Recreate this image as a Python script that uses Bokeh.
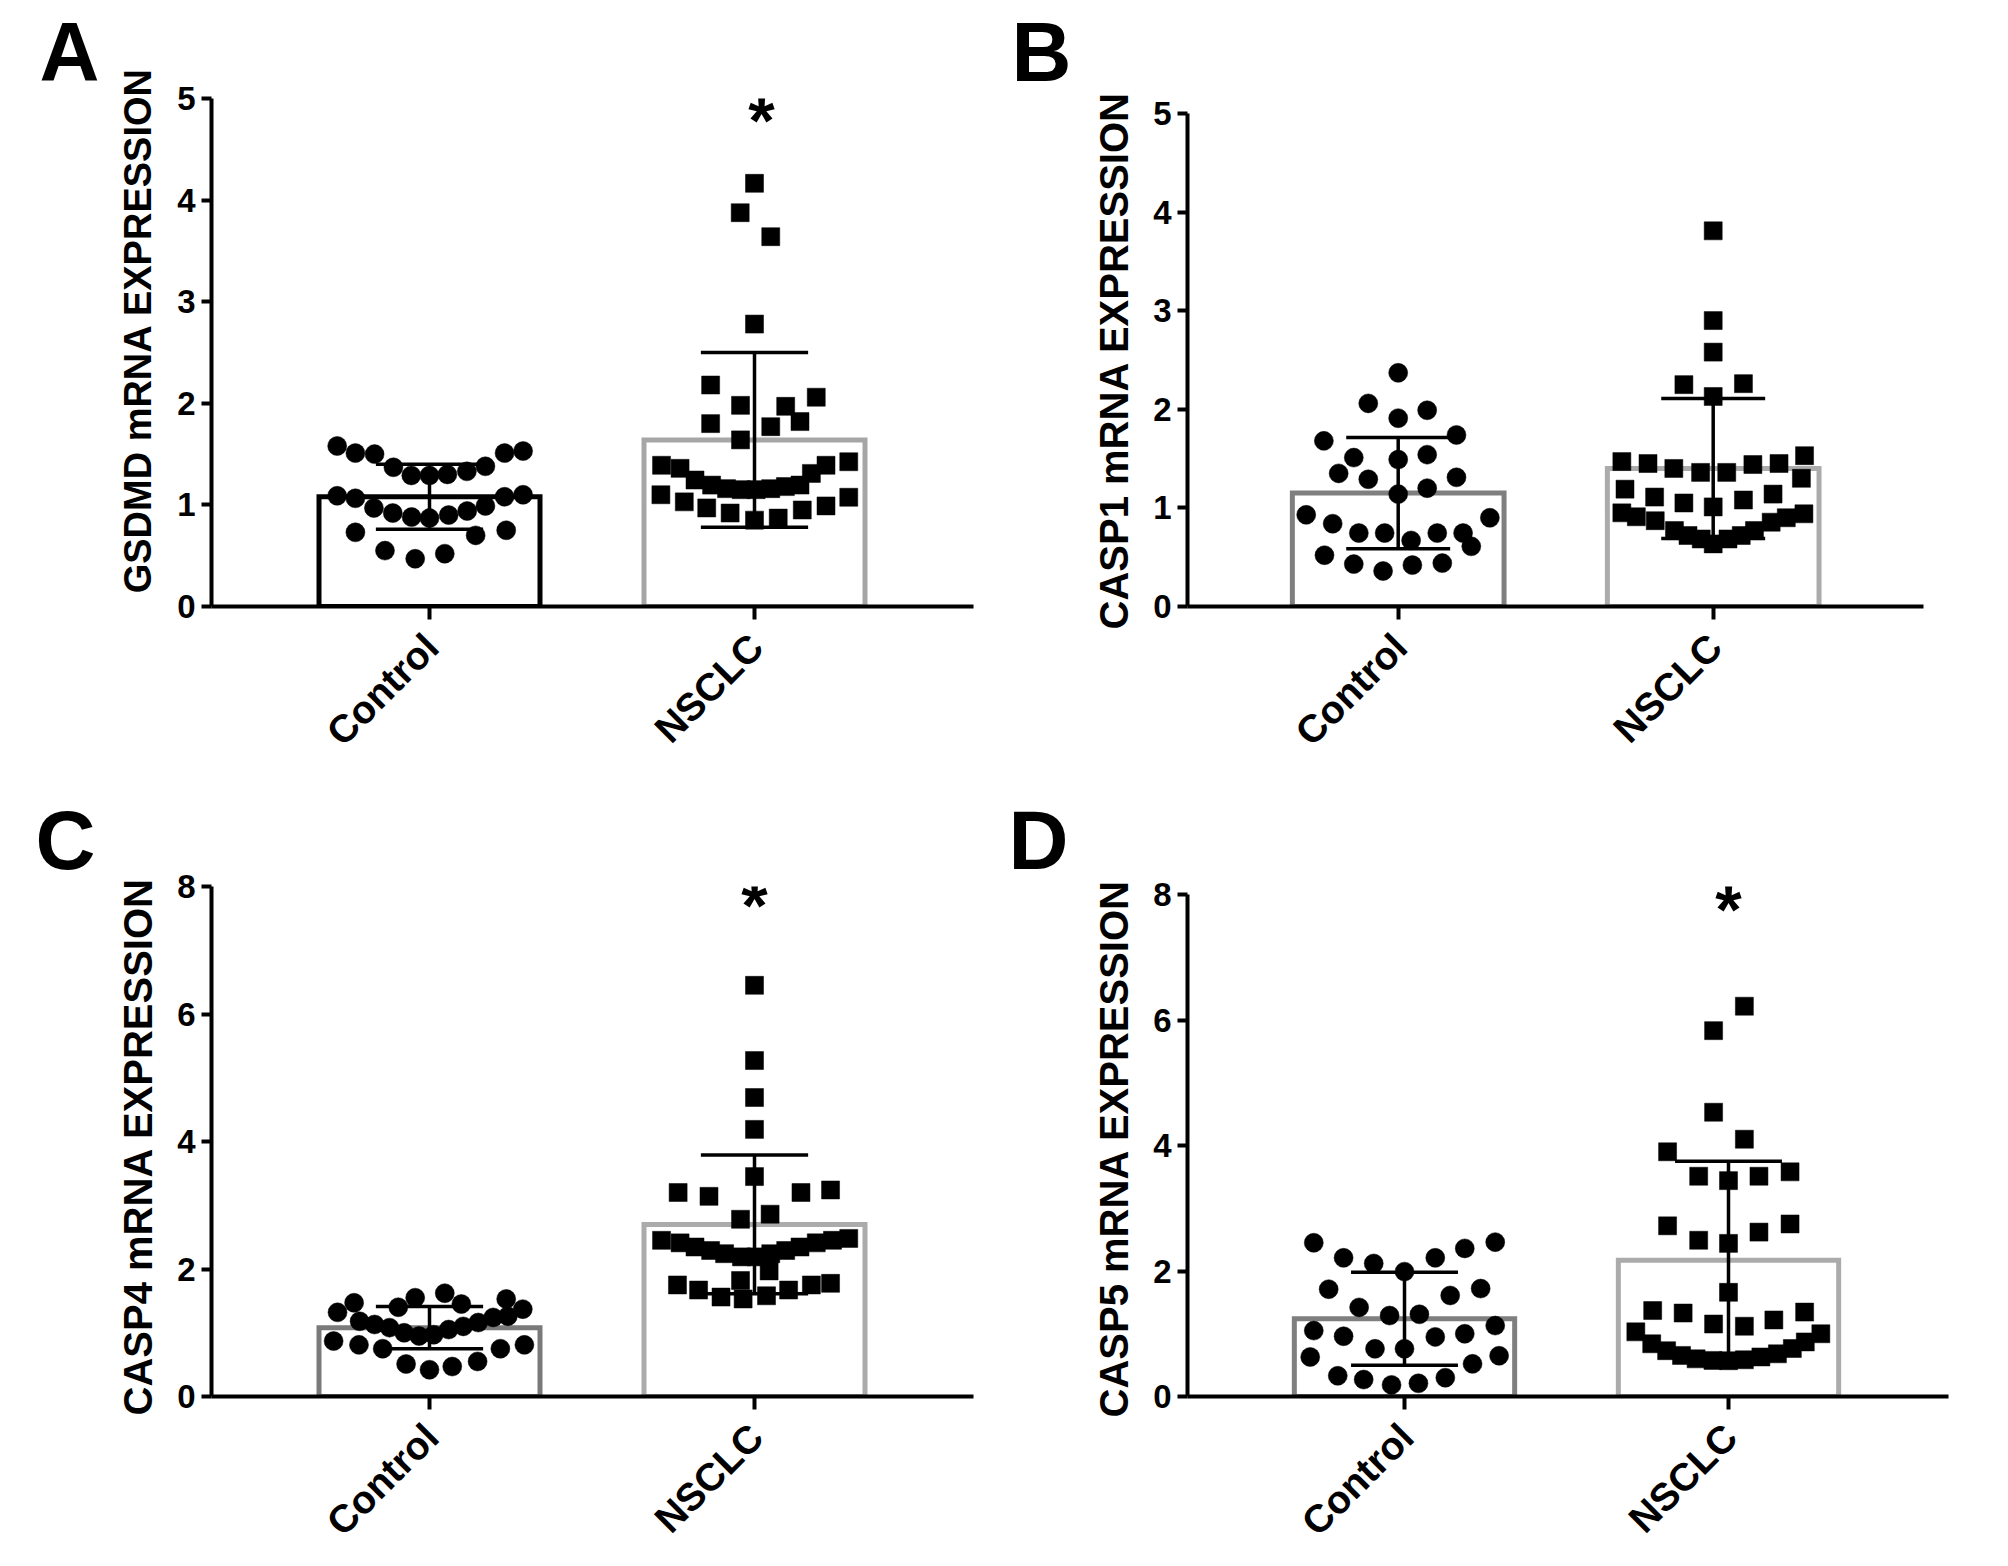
import math
import numpy as np
from bokeh.plotting import figure
from bokeh.models import FixedTicker, Label, Range1d, LinearAxis, Title
from bokeh.layouts import column, row
from bokeh.embed import file_html
from bokeh.resources import INLINE

FONT = "Liberation Sans"

categories = ["Control", "NSCLC"]
cat_x = [1, 2]

# ---------------- Panel A : GSDMD ----------------
a_ylabel = "GSDMD mRNA EXPRESSION"
a_yticks = [0, 1, 2, 3, 4, 5]
a_mean = [1.08, 1.64]
a_sd = [0.32, 0.86]
a_ctrl = [1.58, 1.51, 1.50, 1.37, 1.29, 1.29, 1.30, 1.33, 1.38, 1.51, 1.53,
          1.09, 1.065, 0.97, 0.92, 0.88, 0.87, 0.90, 0.94, 0.99, 1.08, 1.10,
          0.73, 0.55, 0.47, 0.52, 0.70, 0.75]
a_ctrl_dx = [-0.284, -0.228, -0.169, -0.111, -0.056, 0.0, 0.055, 0.115, 0.172, 0.231, 0.288,
             -0.284, -0.228, -0.171, -0.113, -0.055, 0.0, 0.059, 0.116, 0.172, 0.231, 0.288,
             -0.228, -0.137, -0.044, 0.047, 0.142, 0.236]
a_nsclc = [4.165, 3.876, 3.64, 2.78,
           2.18, 1.98, 1.97, 2.06, 1.80, 1.82, 1.77, 1.64,
           1.39, 1.36, 1.245, 1.195, 1.16, 1.15, 1.15, 1.16, 1.18, 1.195, 1.31, 1.39, 1.425,
           1.10, 1.03, 0.97, 0.92, 0.85, 0.87, 0.95, 0.99, 1.075]
a_nsclc_dx = [0.0, -0.044, 0.05, 0.0,
              -0.135, -0.043, 0.096, 0.19, -0.135, 0.14, 0.05, -0.043,
              -0.286, -0.229, -0.183, -0.132, -0.086, -0.041, 0.005, 0.05, 0.095, 0.14, 0.175, 0.22, 0.29,
              -0.288, -0.216, -0.147, -0.075, 0.0, 0.073, 0.147, 0.22, 0.29]
a_sig = "*"

# ---------------- Panel B : CASP1 ----------------
b_ylabel = "CASP1 mRNA EXPRESSION"
b_yticks = [0, 1, 2, 3, 4, 5]
b_mean = [1.15, 1.40]
b_sd = [0.565, 0.71]
b_ctrl = [2.37, 2.06, 1.99, 1.91, 1.68, 1.74, 1.51, 1.49, 1.54, 1.35, 1.29, 1.31, 1.14, 1.20,
          0.93, 0.90, 0.84, 0.745, 0.745, 0.67, 0.745, 0.745, 0.61, 0.52, 0.43, 0.36, 0.42, 0.44]
b_ctrl_dx = [0.0, -0.095, 0.092, 0.0, -0.236, 0.185, -0.141, 0.0, 0.092, -0.189, -0.095, 0.185, 0.0, 0.092,
             -0.292, 0.291, -0.208, -0.125, -0.043, 0.041, 0.124, 0.206, 0.232, -0.234, -0.141, -0.048, 0.045, 0.14]
b_nsclc = [3.81, 2.90, 2.58, 2.25, 2.26, 2.13,
           1.47, 1.45, 1.40, 1.36, 1.36, 1.44, 1.45, 1.53,
           1.19, 1.11, 1.05, 1.01, 1.08, 1.14, 1.30,
           0.95, 0.91, 0.87, 0.77, 0.72, 0.685, 0.635, 0.685, 0.72, 0.77, 0.855, 0.90, 0.94]
b_nsclc_dx = [0.0, 0.0, 0.0, -0.093, 0.096, 0.0,
              -0.29, -0.207, -0.125, -0.04, 0.043, 0.126, 0.209, 0.29,
              -0.28, -0.186, -0.093, 0.0, 0.096, 0.19, 0.28,
              -0.29, -0.244, -0.184, -0.123, -0.08, -0.038, 0.0, 0.047, 0.089, 0.131, 0.184, 0.232, 0.288]
b_sig = ""

# ---------------- Panel C : CASP4 ----------------
c_ylabel = "CASP4 mRNA EXPRESSION"
c_yticks = [0, 2, 4, 6, 8]
c_mean = [1.08, 2.70]
c_sd = [0.33, 1.09]
c_ctrl = [1.47, 1.40, 1.55, 1.62, 1.45, 1.53, 1.37, 1.32,
          1.18, 1.13, 1.08, 1.00, 0.95, 0.97, 1.05, 1.10, 1.16, 1.24, 1.26,
          0.87, 0.81, 0.75, 0.51, 0.42, 0.47, 0.55, 0.75, 0.81]
c_ctrl_dx = [-0.232, -0.096, -0.044, 0.047, 0.098, 0.236, 0.287, -0.283,
             -0.215, -0.169, -0.123, -0.078, -0.032, 0.013, 0.059, 0.104, 0.15, 0.196, 0.241,
             -0.295, -0.217, -0.144, -0.072, 0.0, 0.07, 0.148, 0.218, 0.292]
c_nsclc = [6.45, 5.27, 4.69, 4.19, 3.45,
           3.20, 3.14, 3.20, 3.24, 2.78, 2.86,
           2.45, 2.41, 2.345, 2.29, 2.24, 2.19, 2.19, 2.24, 2.29, 2.345, 2.41, 2.45, 2.48,
           1.75, 1.67, 1.56, 1.82, 1.97, 1.53, 1.58, 1.67, 1.75, 1.775]
c_nsclc_dx = [0.0, 0.0, 0.0, 0.0, 0.0,
              -0.235, -0.14, 0.143, 0.234, -0.043, 0.048,
              -0.286, -0.229, -0.183, -0.135, -0.092, -0.04, 0.005, 0.05, 0.096, 0.14, 0.19, 0.24, 0.29,
              -0.237, -0.172, -0.103, -0.043, 0.045, -0.035, 0.037, 0.105, 0.175, 0.234]
c_sig = "*"

# ---------------- Panel D : CASP5 ----------------
d_ylabel = "CASP5 mRNA EXPRESSION"
d_yticks = [0, 2, 4, 6, 8]
d_mean = [1.24, 2.17]
d_sd = [0.74, 1.58]
d_ctrl = [2.45, 2.21, 2.12, 1.99, 2.21, 2.36, 2.46,
          1.71, 1.42, 1.29, 1.31, 1.61, 1.72,
          1.05, 0.96, 0.95, 1.00, 1.13,
          0.63, 0.76, 0.76, 0.52, 0.65,
          0.33, 0.27, 0.185, 0.21, 0.30]
d_ctrl_dx = [-0.28, -0.188, -0.095, 0.0, 0.095, 0.186, 0.28,
             -0.234, -0.14, -0.046, 0.046, 0.141, 0.235,
             -0.28, -0.188, 0.095, 0.186, 0.28,
             -0.291, -0.091, 0.0, 0.21, 0.292,
             -0.206, -0.126, -0.04, 0.043, 0.126]
d_nsclc = [6.22, 5.83, 4.53, 4.10,
           3.90, 3.51, 3.44, 3.51, 3.58,
           2.72, 2.49, 2.44, 2.62, 2.75,
           1.66,
           1.37, 1.33, 1.155, 1.12, 1.22, 1.345,
           1.03, 0.84, 0.73, 0.655, 0.60, 0.575, 0.57, 0.585, 0.63, 0.68, 0.765, 0.87, 1.00]
d_nsclc_dx = [0.049, -0.046, -0.046, 0.049,
              -0.188, -0.092, 0.0, 0.094, 0.19,
              -0.188, -0.092, 0.0, 0.094, 0.19,
              0.0,
              -0.234, -0.14, -0.046, 0.049, 0.14, 0.235,
              -0.286, -0.237, -0.191, -0.145, -0.1, -0.048, 0.0, 0.049, 0.1, 0.151, 0.197, 0.237, 0.285]
d_sig = "*"

# ---------------- layout / style (page pixel geometry) ----------------
ROW1_H, ROW2_H, COL_W = 776, 788, 1000
panels = [
    dict(letter="A", ylabel=a_ylabel, yticks=a_yticks, mean=a_mean, sd=a_sd,
         ctrl=a_ctrl, ctrl_dx=a_ctrl_dx, nsclc=a_nsclc, nsclc_dx=a_nsclc_dx, sig=a_sig,
         colors=["#000000", "#a6a6a6"],
         page_left=0, page_top=0, h=ROW1_H, fl=211, fr=973, ft=98, fb=606,
         cx=429, spacing=325, ytop=98, xend=973, bw=0.68,
         ylab_fs=38, ylab_center=330, ylab_standoff=32,
         letter_x=39, star=(761, 108)),
    dict(letter="B", ylabel=b_ylabel, yticks=b_yticks, mean=b_mean, sd=b_sd,
         ctrl=b_ctrl, ctrl_dx=b_ctrl_dx, nsclc=b_nsclc, nsclc_dx=b_nsclc_dx, sig=b_sig,
         colors=["#7f7f7f", "#ababab"],
         page_left=COL_W, page_top=0, h=ROW1_H, fl=1187, fr=1948, ft=98, fb=606,
         cx=1397.7, spacing=315, ytop=113, xend=1923, bw=0.672,
         ylab_fs=40, ylab_center=360, ylab_standoff=30,
         letter_x=1011, star=None),
    dict(letter="C", ylabel=c_ylabel, yticks=c_yticks, mean=c_mean, sd=c_sd,
         ctrl=c_ctrl, ctrl_dx=c_ctrl_dx, nsclc=c_nsclc, nsclc_dx=c_nsclc_dx, sig=c_sig,
         colors=["#7a7a7a", "#ababab"],
         page_left=0, page_top=ROW1_H, h=ROW2_H, fl=211, fr=973, ft=886, fb=1396,
         cx=429, spacing=325, ytop=886, xend=973, bw=0.68,
         ylab_fs=40, ylab_center=1146, ylab_standoff=30,
         letter_x=35, star=(754, 893)),
    dict(letter="D", ylabel=d_ylabel, yticks=d_yticks, mean=d_mean, sd=d_sd,
         ctrl=d_ctrl, ctrl_dx=d_ctrl_dx, nsclc=d_nsclc, nsclc_dx=d_nsclc_dx, sig=d_sig,
         colors=["#7f7f7f", "#ababab"],
         page_left=COL_W, page_top=ROW1_H, h=ROW2_H, fl=1187, fr=1948, ft=886, fb=1396,
         cx=1404, spacing=324, ytop=894, xend=1948, bw=0.68,
         ylab_fs=40, ylab_center=1148, ylab_standoff=30,
         letter_x=1008, star=(1728, 897)),
]

STAR_DY = 11         # glyph centre sits this many px above the label anchor
LABEL_DX_PX = 2      # category labels sit a little right of their tick

# approximate advance widths (em) of Liberation Sans Bold, used to centre the y titles
EM = {"G": .778, "S": .667, "D": .722, "M": .833, " ": .278, "m": .889, "R": .722, "N": .722,
      "A": .722, "E": .667, "X": .667, "P": .667, "I": .278, "O": .778, "C": .722,
      "1": .556, "4": .556, "5": .556}


def make_panel(P):
    fw = P["fr"] - P["fl"]
    fh = P["fb"] - P["ft"]
    sp = P["spacing"]
    x0 = 1 - (P["cx"] - P["fl"]) / sp
    x1 = x0 + fw / sp
    ymax = P["yticks"][-1]
    sy = (P["fb"] - P["ytop"]) / ymax
    ytop_range = fh / sy

    def to_data(px, py):
        return x0 + (px - P["fl"]) / sp, (P["fb"] - py) / sy

    p = figure(width=COL_W, height=P["h"], output_backend="svg", toolbar_location=None,
               x_range=Range1d(x0, x1), y_range=Range1d(0, ytop_range),
               min_border_left=P["fl"] - P["page_left"],
               min_border_right=P["page_left"] + COL_W - P["fr"],
               min_border_top=P["ft"] - P["page_top"],
               min_border_bottom=P["page_top"] + P["h"] - P["fb"])
    p.outline_line_color = None
    p.grid.visible = False
    p.background_fill_color = "white"
    p.border_fill_color = "white"

    # panel letter as the plot title
    p.title.text = P["letter"]
    p.title.align = "left"
    p.title.offset = P["letter_x"] - P["fl"]
    p.title.standoff = 0
    p.title.text_font = FONT
    p.title.text_font_style = "bold"
    p.title.text_font_size = "83px"
    p.title.text_color = "black"

    # bars (mean)
    p.vbar(x=cat_x, top=P["mean"], bottom=0, width=P["bw"], fill_color=None,
           line_color=P["colors"], line_width=5, line_join="miter")

    # individual points
    p.scatter(x=1 + np.array(P["ctrl_dx"]), y=P["ctrl"], marker="circle", size=19,
              fill_color="black", line_color="black", line_width=0.5)
    p.scatter(x=2 + np.array(P["nsclc_dx"]), y=P["nsclc"], marker="square", size=18,
              fill_color="black", line_color="black", line_width=0.5)

    # error bars (mean +/- SD)
    lo = [m - s for m, s in zip(P["mean"], P["sd"])]
    hi = [m + s for m, s in zip(P["mean"], P["sd"])]
    cw = 0.165
    p.segment(x0=cat_x, y0=lo, x1=cat_x, y1=hi, line_color="black", line_width=3.5)
    p.segment(x0=[x - cw for x in cat_x], y0=hi, x1=[x + cw for x in cat_x], y1=hi,
              line_color="black", line_width=3.5)
    p.segment(x0=[x - cw for x in cat_x], y0=lo, x1=[x + cw for x in cat_x], y1=lo,
              line_color="black", line_width=3.5)

    # axes
    xa = p.xaxis[0]
    ya = p.yaxis[0]
    for ax in (xa, ya):
        ax.axis_line_width = 4
        ax.axis_line_color = "black"
        ax.major_tick_line_width = 4
        ax.major_tick_line_color = "black"
        ax.major_tick_in = 0
        ax.minor_tick_line_color = None
        ax.major_label_text_font = FONT
        ax.major_label_text_font_style = "bold"
        ax.major_label_text_color = "black"
    ya.ticker = FixedTicker(ticks=P["yticks"])
    ya.bounds = (0, ymax)
    ya.major_tick_out = 10
    ya.major_label_text_font_size = "33px"
    ya.major_label_standoff = 6

    # y title (left-side title so that its vertical position can be set)
    fs = P["ylab_fs"]
    text_len = sum(EM.get(ch, 0.6) for ch in P["ylabel"]) * fs
    off = (P["fb"] - P["ylab_center"]) - text_len / 2
    p.add_layout(Title(text=P["ylabel"], align="left", offset=off, standoff=P["ylab_standoff"],
                       vertical_align="bottom", text_font=FONT, text_font_style="bold",
                       text_font_size=f"{fs}px", text_color="black"), "left")

    xa.ticker = FixedTicker(ticks=cat_x)
    xa.bounds = (x0, to_data(P["xend"], 0)[0])
    xa.major_tick_out = 13
    xa.major_label_overrides = {x: "" for x in cat_x}
    xa.major_label_text_font_size = "0px"
    xa.major_label_standoff = 0

    # category labels (axis without line/ticks, slightly offset to the right)
    dx = LABEL_DX_PX / sp
    lab_ticks = [x + dx for x in cat_x]
    lab_ax = LinearAxis(ticker=FixedTicker(ticks=lab_ticks),
                        major_label_overrides={t: c for t, c in zip(lab_ticks, categories)},
                        axis_line_color=None, major_tick_line_color=None, minor_tick_line_color=None,
                        major_tick_in=0, major_tick_out=0,
                        major_label_orientation=math.pi / 4, major_label_standoff=21,
                        major_label_text_font=FONT, major_label_text_font_style="bold",
                        major_label_text_font_size="39px", major_label_text_color="black")
    p.add_layout(lab_ax, "below")

    # significance mark
    if P["sig"] and P["star"]:
        sx, sy_ = to_data(P["star"][0], P["star"][1] + STAR_DY)
        p.add_layout(Label(x=sx, y=sy_, text=P["sig"], text_align="center", text_baseline="alphabetic",
                           text_font=FONT, text_font_style="bold", text_font_size="68px",
                           text_color="black"))
    return p


figs = [make_panel(P) for P in panels]
layout = column(row(figs[0], figs[1]), row(figs[2], figs[3]))

open("out.html", "w").write(file_html(layout, INLINE))
